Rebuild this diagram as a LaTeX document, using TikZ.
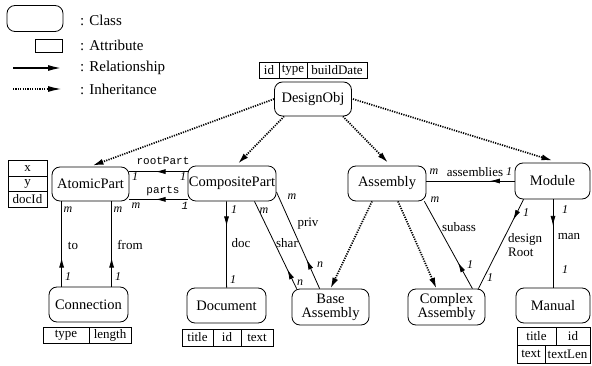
\documentclass[tikz,border=0pt]{standalone}
\usepackage{fontspec}
\setmainfont{Liberation Serif}
\setmonofont{Liberation Mono}
\usetikzlibrary{arrows.meta,calc,decorations.markings}
\begin{document}
\begin{tikzpicture}[x=1pt,y=-1pt,
 cls/.style={draw, rounded corners=8pt, line width=0.8pt, font=\fontsize{14.5}{14}\selectfont, inner sep=1pt, align=center},
 attr/.style={draw, line width=0.7pt, font=\fontsize{13}{14}\selectfont, inner sep=0pt},
 lbl/.style={font=\fontsize{13}{14}\selectfont, inner sep=0pt},
 legtxt/.style={font=\fontsize{15}{16}\selectfont, inner sep=0pt, anchor=west},
 mul/.style={font=\fontsize{12}{13}\selectfont\itshape, inner sep=0pt},
 ttl/.style={font=\fontsize{11}{12}\selectfont\ttfamily, inner sep=0pt},
 inh/.style={line width=1.7pt, dash pattern=on 1.2pt off 1.2pt, -{Latex[length=11pt,width=6pt]}},
 rel/.style={line width=0.8pt, postaction={decorate}, decoration={markings, mark=at position #1 with {\arrow{Latex[length=10pt,width=5pt]}}}},
]
\useasboundingbox (0,0) rectangle (592,366);

% legend
\node[cls, minimum width=56pt, minimum height=26pt] (legcls) at (35,18.5) {};
\node[attr, minimum width=27pt, minimum height=13pt] (legattr) at (48.5,45.5) {};
\coordinate (lra) at (13,68);
\coordinate (lrb) at (62,68);
\coordinate (lia) at (13,89);
\coordinate (lib) at (62,89);
\draw[line width=1.9pt, -{Latex[length=14pt,width=6pt]}] (lra) -- (lrb);
\draw[line width=1.7pt, dash pattern=on 1.2pt off 1.2pt, -{Latex[length=14pt,width=6pt]}] (lia) -- (lib);
\node[legtxt] (t1) at (80,20) {: Class};
\node[legtxt] (t2) at (80,45) {: Attribute};
\node[legtxt] (t3) at (80,68) {: Relationship};
\node[legtxt] (t4) at (80,89) {: Inheritance};

% classes
\node[cls, minimum width=77pt, minimum height=34pt] (dobj) at (313,99) {DesignObj};
\node[cls, minimum width=77pt, minimum height=34pt] (ap) at (90.5,184) {AtomicPart};
\node[cls, minimum width=88pt, minimum height=35pt] (cp) at (232,183.5) {CompositePart};
\node[cls, minimum width=78pt, minimum height=35pt] (asm) at (387,183.5) {Assembly};
\node[cls, minimum width=75pt, minimum height=36pt] (mod) at (552.5,181) {Module};
\node[cls, minimum width=79pt, minimum height=35pt] (conn) at (88.5,304.5) {Connection};
\node[cls, minimum width=79pt, minimum height=35pt] (doc) at (226.5,305.5) {Document};
\node[cls, minimum width=77pt, minimum height=36pt] (base) at (330.5,307) {Base\\Assembly};
\node[cls, minimum width=77pt, minimum height=36pt] (cplx) at (446.5,307) {Complex\\Assembly};
\node[cls, minimum width=74pt, minimum height=35pt] (man) at (553,305.5) {Manual};

% attribute tables
\node[attr, minimum width=20pt, minimum height=16pt] (d1) at (269,70) {id};
\node[attr, minimum width=28pt, minimum height=16pt] (d2) at (293,70) {type};
\node[attr, minimum width=60pt, minimum height=16pt] (d3) at (337,70) {buildDate};

\node[attr, minimum width=39pt, minimum height=15.5pt] (a1) at (27.5,168.5) {x};
\node[attr, minimum width=39pt, minimum height=15.5pt] (a2) at (27.5,184) {y};
\node[attr, minimum width=39pt, minimum height=15.5pt] (a3) at (27.5,199.5) {docId};

\node[attr, minimum width=46pt, minimum height=16pt] (c1) at (66,335) {type};
\node[attr, minimum width=42pt, minimum height=16pt] (c2) at (110,335) {length};

\node[attr, minimum width=31pt, minimum height=17pt] (o1) at (197.5,337.5) {title};
\node[attr, minimum width=28pt, minimum height=17pt] (o2) at (227,337.5) {id};
\node[attr, minimum width=32pt, minimum height=17pt] (o3) at (257,337.5) {text};

\node[attr, minimum width=39pt, minimum height=18pt] (m1) at (536.5,336) {title};
\node[attr, minimum width=34pt, minimum height=18pt] (m2) at (573,336) {id};
\node[attr, minimum width=28pt, minimum height=18pt] (m3) at (531,354) {text};
\node[attr, minimum width=45pt, minimum height=18pt] (m4) at (567.5,354) {textLen};

% inheritance
\draw[inh] (dobj.west) -- ($(ap.north)+(2,-1)$);
\draw[inh] ($(dobj.south west)+(10,0)$) -- ($(cp.north)+(6,-2)$);
\draw[inh] ($(dobj.south east)+(-9,0)$) -- ($(asm.north)+(1,-3)$);
\draw[inh] ($(dobj.east)+(1,0)$) -- ($(mod.north)+(0,-2)$);
\draw[inh] ($(asm.south)+(-15,0)$) -- (base.north);
\draw[inh] ($(asm.south)+(11,0)$) -- ($(cplx.north)+(-10,0)$);

% relationships
\draw[rel=0.55] ($(cp.north west)+(0,6)$) -- ($(ap.north east)+(0,5)$);
\draw[rel=0.55] ($(cp.south west)+(0,-2)$) -- ($(ap.south east)+(0,-2)$);
\draw[rel=0.34] ($(conn.north west)+(13,0)$) -- ($(ap.south west)+(10,0)$);
\draw[rel=0.34] ($(conn.north west)+(63,0)$) -- ($(ap.south west)+(60,0)$);
\draw[rel=0.29] ($(cp.south west)+(39,0)$) -- ($(doc.north west)+(40,0)$);
\draw[rel=0.22] ($(base.north west)+(5,0)$) -- ($(cp.south west)+(67,0)$);
\draw[rel=0.30] ($(base.north west)+(28,0)$) -- ($(cp.east)+(0,8.5)$);
\draw[rel=0.28] (mod.west) -- (asm.east |- mod.west);
\draw[rel=0.30] ($(cplx.north east)+(-13,0)$) -- ($(asm.south east)+(-2,0)$);
\draw[rel=0.23] ($(mod.south west)+(9,0)$) -- ($(cplx.north east)+(-7,0)$);
\draw[rel=0.30] (man.north |- mod.south) -- (man.north);

% labels
\node[ttl] (lroot) at (163,161) {rootPart};
\node[mul] (lr1) at (135,177) {1};
\node[mul] (lr2) at (183,177) {1};
\node[ttl] (lparts) at (163,191) {parts};
\node[mul] (lp1) at (136,206) {m};
\node[ttl, font=\fontsize{11}{12}\selectfont\ttfamily\itshape] (lp2) at (185,206) {1};

\node[mul] (lt1) at (68,210) {m};
\node[lbl] (lto) at (73,246) {to};
\node[mul] (lt2) at (68,277) {1};
\node[mul] (lf1) at (118,210) {m};
\node[lbl] (lfrom) at (130,245) {from};
\node[mul] (lf2) at (118,277) {1};

\node[mul] (ld1) at (234,210) {1};
\node[lbl] (ldoc) at (241,243) {doc};
\node[mul] (ld2) at (233,280) {1};

\node[mul] (ls1) at (264,211) {m};
\node[lbl] (lshar) at (287,243) {shar};
\node[mul] (ls2) at (300,283) {n};

\node[mul] (lv1) at (292,197) {m};
\node[lbl] (lpriv) at (308,224) {priv};
\node[mul] (lv2) at (320,265) {n};

\node[mul] (la1) at (434,172) {m};
\node[lbl] (lasm) at (475,172) {assemblies};
\node[mul] (la2) at (509,172) {1};

\node[mul] (lb1) at (435,200) {m};
\node[lbl] (lsub) at (459,227) {subass};
\node[mul] (lb2) at (470,265) {1};

\node[mul] (lg1) at (526,213) {1};
\node[lbl, align=left, anchor=west] (ldr) at (508,245) {design\\Root};
\node[mul] (lg2) at (490,278) {1};

\node[mul] (ln1) at (565,210) {1};
\node[lbl] (lman) at (569,237) {man};
\node[mul] (ln2) at (565,270) {1};
\end{tikzpicture}
\end{document}
